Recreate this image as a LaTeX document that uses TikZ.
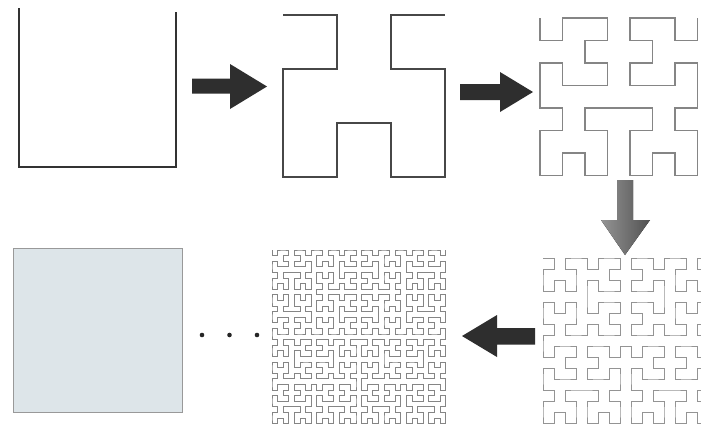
\documentclass[tikz,border=0pt]{standalone}
\usetikzlibrary{lindenmayersystems}
\pgfdeclarelindenmayersystem{hilbertdown}{
  \rule{L -> -RF+LFL+FR-}
  \rule{R -> +LF-RFR-FL+}}
\definecolor{limitfill}{RGB}{221,229,233}
\definecolor{darkline}{RGB}{50,50,50}
\tikzset{
  curveone/.style={draw=darkline, line width=2pt, line join=miter},
  curvetwo/.style={draw=darkline!90, line width=1.6pt, line join=miter},
  curvethree/.style={draw=black!48, line width=1.1pt, line join=miter},
  curvefour/.style={draw=black!42, line width=1pt, line join=miter},
  curvefive/.style={draw=black!48, line width=0.75pt, line join=miter},
  blockarrow/.style={fill=black!82, draw=none},
  greyarrow/.style={left color=black!42, right color=black!68, draw=none},
  dotmark/.style={fill=black!85, draw=none},
}
\begin{document}
\begin{tikzpicture}[x=1pt,y=-1pt]
\fill[white] (0,0) rectangle (701,424);
\useasboundingbox (0,0) rectangle (701,424);
\clip (0,0) rectangle (701,424);

% order 1
\draw[curveone] (19,8) -- (19,167) -- (176,167) -- (176,12);

% arrow 1
\fill[blockarrow] (192,78.5) -- (230,78.5) -- (230,64) -- (267,86.5) -- (230,109) -- (230,93.5) -- (192,93.5) -- cycle;

% order 2
\begin{scope}[shift={(283,15)}]
\draw[curvetwo, lindenmayer system={hilbertdown, axiom=L, order=2, step=54pt, angle=90}] (0,0) lindenmayer system;
\end{scope}

% arrow 2
\fill[blockarrow] (460,84) -- (500,84) -- (500,72) -- (533,92) -- (500,112) -- (500,100) -- (460,100) -- cycle;

% order 3
\begin{scope}[shift={(540,18)}]
\draw[curvethree, lindenmayer system={hilbertdown, axiom=L, order=3, step=22.5pt, angle=90}] (0,0) lindenmayer system;
\end{scope}

% down arrow
\fill[greyarrow] (617,180) -- (633,180) -- (633,220) -- (650,220) -- (625,255) -- (601,220) -- (617,220) -- cycle;

% order 4
\begin{scope}[shift={(543,258)}]
\draw[curvefour, lindenmayer system={hilbertdown, axiom=L, order=4, step=11pt, angle=90}] (0,0) lindenmayer system;
\end{scope}

% left arrow
\fill[blockarrow] (535,328) -- (497,328) -- (497,315) -- (462,336) -- (497,357) -- (497,344.5) -- (535,344.5) -- cycle;

% order 5
\begin{scope}[shift={(272,250)}]
\draw[curvefive, lindenmayer system={hilbertdown, axiom=L, order=5, step=5.6pt, angle=90}] (0,0) lindenmayer system;
\end{scope}

% dots
\fill[dotmark] (202,335) circle (2.3);
\fill[dotmark] (229.5,335) circle (2.3);
\fill[dotmark] (257,335) circle (2.3);

% limit
\filldraw[fill=limitfill, draw=black!40, line width=0.9pt] (13,248) rectangle (182,412);
\end{tikzpicture}
\end{document}
